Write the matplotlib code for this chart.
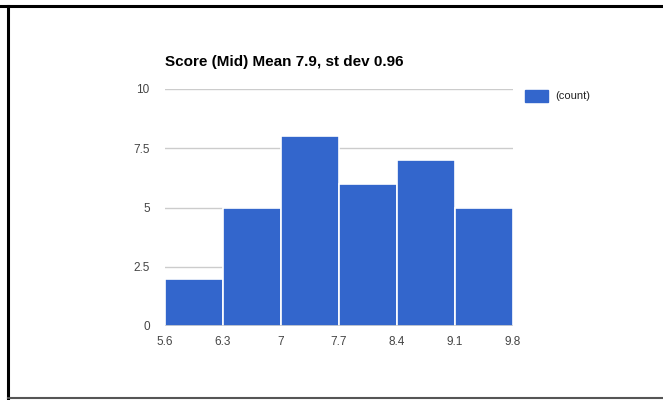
import matplotlib
matplotlib.use("Agg")
import matplotlib.pyplot as plt
from matplotlib.patches import Rectangle
from matplotlib.lines import Line2D

plt.rcParams['font.family'] = ['Liberation Sans', 'DejaVu Sans']

# Histogram data
bin_edges = [5.6, 6.3, 7.0, 7.7, 8.4, 9.1, 9.8]
counts = [2, 5, 8, 6, 7, 5]
x_labels = ["5.6", "6.3", "7", "7.7", "8.4", "9.1", "9.8"]
y_ticks = [0, 2.5, 5, 7.5, 10]
y_labels = ["0", "2.5", "5", "7.5", "10"]
title = "Score (Mid) Mean 7.9, st dev 0.96"
series_name = "(count)"

BAR_COLOR = "#3366cc"

fig = plt.figure(figsize=(6.63, 4.0), dpi=100)
ax = fig.add_axes([165 / 663, 1 - 326 / 400, (513 - 165) / 663, (326 - 89) / 400])

lefts = bin_edges[:-1]
widths = [b - a for a, b in zip(bin_edges[:-1], bin_edges[1:])]
ax.bar(lefts, counts, width=widths, align="edge", color=BAR_COLOR,
       edgecolor="white", linewidth=1.2, zorder=2)

ax.set_xlim(bin_edges[0], bin_edges[-1])
ax.set_ylim(0, 10)
ax.set_xticks(bin_edges)
ax.set_xticklabels(x_labels)
ax.set_yticks(y_ticks)
ax.set_yticklabels(y_labels)
ax.tick_params(length=0, labelsize=8.5, labelcolor="#444444")
ax.tick_params(axis="y", pad=11)
ax.tick_params(axis="x", pad=7)

ax.grid(axis="y", color="#cccccc", linewidth=1, zorder=0)
for s in ax.spines.values():
    s.set_visible(False)
ax.axhline(0, color="#333333", linewidth=1, zorder=3)

# title
fig.text(165 / 663, 1 - 62 / 400, title, fontsize=11, fontweight="bold",
         color="#000000", va="center", ha="left")

# legend
fig.patches.append(Rectangle((525 / 663, 1 - 102 / 400), 23 / 663, 12 / 400,
                             transform=fig.transFigure, color=BAR_COLOR))
fig.text(555 / 663, 1 - 96 / 400, series_name, fontsize=8, color="#222222",
         va="center", ha="left")

# frame around the screenshot
fig.add_artist(Line2D([0, 1], [1 - 6 / 400, 1 - 6 / 400], transform=fig.transFigure,
                      color="black", linewidth=2.2))
fig.add_artist(Line2D([8 / 663, 8 / 663], [1 - 6 / 400, 1 - 398 / 400], transform=fig.transFigure,
                      color="black", linewidth=2.2))
fig.add_artist(Line2D([8 / 663, 1], [1 - 398 / 400, 1 - 398 / 400], transform=fig.transFigure,
                      color="#555555", linewidth=1.5))

fig.savefig("out.png", dpi=100)
